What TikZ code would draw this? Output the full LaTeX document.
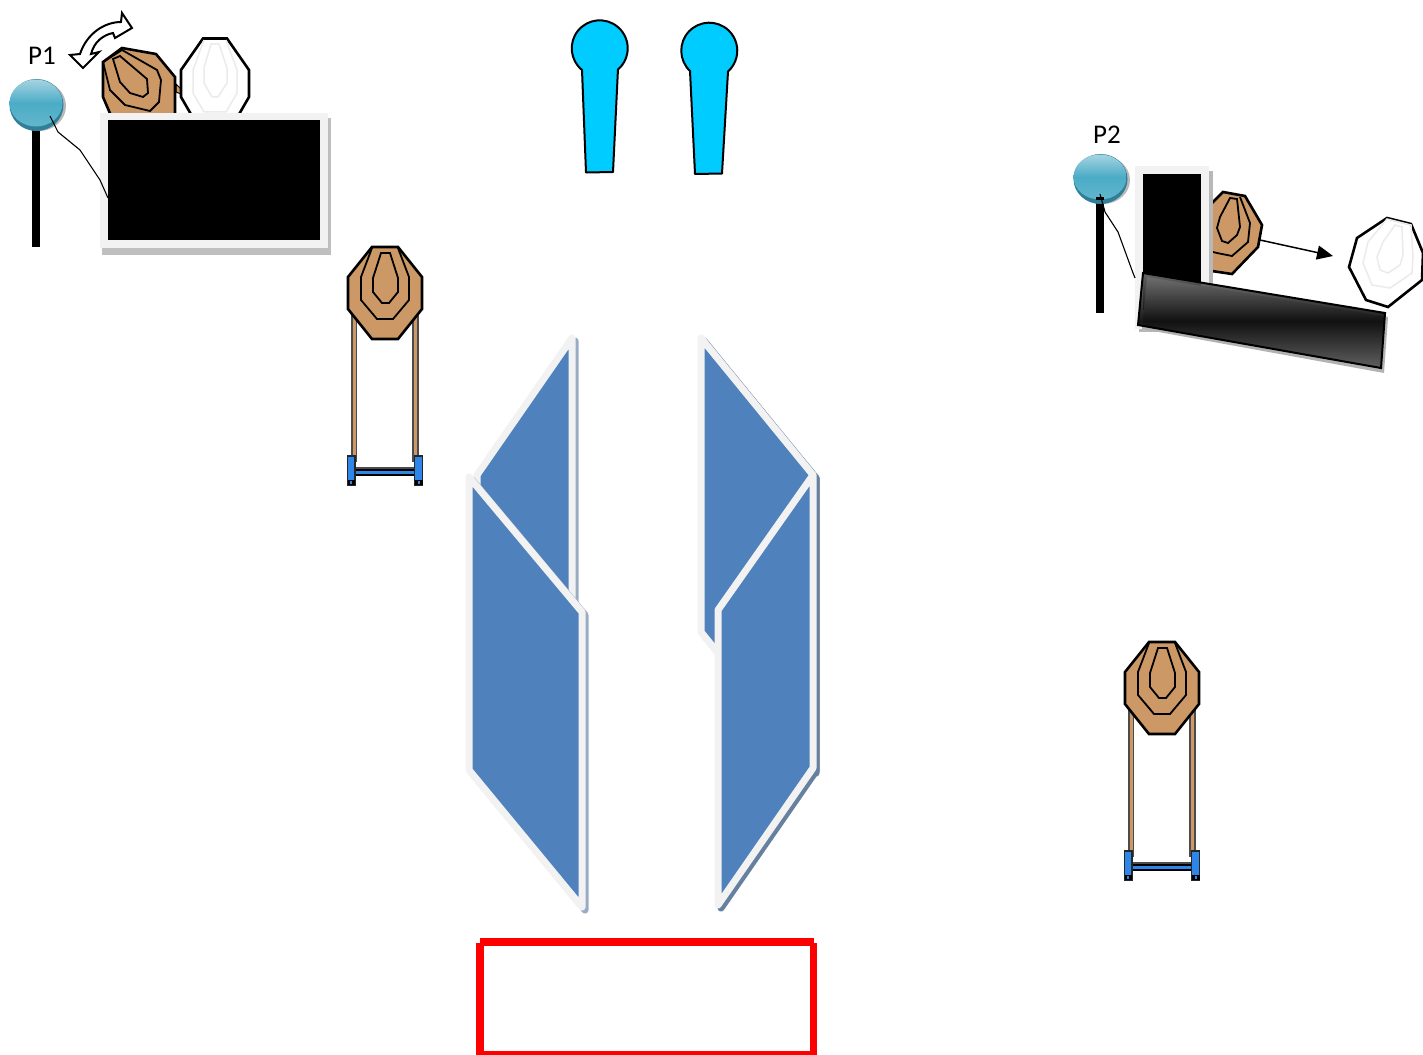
\documentclass[tikz,border=0pt]{standalone}
\usepackage{fontspec}
\setmainfont{Carlito}
\usetikzlibrary{arrows.meta}
\definecolor{tanface}{HTML}{CC9966}
\definecolor{paneblue}{HTML}{4F81BD}
\definecolor{paneedge}{HTML}{F2F2F2}
\definecolor{headblue}{HTML}{00CCFF}
\definecolor{standblue}{HTML}{2E86E8}
\definecolor{ringgray}{HTML}{EBEBEB}
\definecolor{ballTop}{HTML}{A5D3E2}
\definecolor{ballMid}{HTML}{4BACC6}
\definecolor{ballLow}{HTML}{62B6CC}
\definecolor{ballRim}{HTML}{2F7F98}
\definecolor{shadowA}{HTML}{9AACC4}
\definecolor{shadowB}{HTML}{66809F}
\tikzset{
  x=1pt,y=-1pt,
  outerline/.style={draw=black,line width=2.6pt,line join=miter},
  innerline/.style={draw=black,line width=1.8pt,line join=miter},
  ghostline/.style={draw=ringgray,line width=1.5pt},
  pane/.style={fill=paneblue,draw=paneedge,line width=7pt,line join=round},
  paneshadow/.style={fill=#1,draw=#1,line width=7pt,line join=round},
  person/.style={draw=black,line width=2pt,fill=headblue,line join=round},
  wire/.style={draw=black,line width=1.1pt,line join=round},
  pole/.style={fill=black,draw=none},
  ballbody/.style={top color=ballTop,bottom color=ballLow,middle color=ballMid},
  label/.style={font=\fontsize{27}{27}\selectfont,inner sep=0pt},
  pics/standtarget/.style={code={
    \fill[tanface,draw=black!70,line width=1.3pt] (-33,16) rectangle (-28.5,168);
    \fill[tanface,draw=black!70,line width=1.3pt] (28,16) rectangle (33,168);
    \fill[black!70] (-30,174) rectangle (30,178);
    \fill[standblue,draw=black,line width=1.3pt] (-30,177) rectangle (30,182);
    \fill[standblue,draw=black!85,line width=1.3pt] (-37.5,163) rectangle (-30,192);
    \fill[standblue,draw=black!85,line width=1.3pt] (29.5,163) rectangle (37.5,192);
    \fill[black] (-37.5,187) rectangle (-30,192);
    \fill[black] (29.5,187) rectangle (37.5,192);
    \fill[standblue] (-35.5,188) rectangle (-33,190.5);
    \fill[standblue] (32.5,188) rectangle (35,190.5);
    \path[fill=tanface,outerline] (-13,-46)--(13,-46)--(37,-16)--(37,16)--(13,46)--(-13,46)--(-37,16)--(-37,-16)--cycle;
    \path[innerline] (-13,-45)--(-24,-16)--(-24,7)--(-8,26)--(8,26)--(24,7)--(24,-16)--(13,-45);
    \path[innerline] (-4,-40)--(5,-40)--(13,-15)--(13,-1)--(4,10)--(-3,10)--(-12,-1)--(-12,-15)--cycle;
  }}
}
\begin{document}
\begin{tikzpicture}
\useasboundingbox (0,0) rectangle (1423,1054);
\clip (0,0) rectangle (1423,1054);

% Heads at the top
\path[person] (582,70) arc[start angle=129.3,end angle=409.4,radius=28] -- (613,172) -- (586,172.5) -- cycle;
\path[person] (690,71) arc[start angle=133.5,end angle=408,radius=28] -- (722,173.5) -- (695,174) -- cycle;

% Stand targets
\pic (standA) at (385,293) {standtarget};
\pic (standB) at (1162,688) {standtarget};

% Blue panes, back ones first
\path[paneshadow=shadowA] (575,341)--(480,478)--(480,600)--(575,623)--cycle;
\path[paneshadow=shadowB] (704,341)--(816,478)--(816,773)--(704,635)--cycle;
\path[pane] (572,338)--(477,475)--(477,600)--(572,620)--cycle;
\path[pane] (701,338)--(813,475)--(813,770)--(701,632)--cycle;
\path[paneshadow=shadowA] (585,615)--(585,910)--(472,773)--(472,480)--cycle;
\path[paneshadow=shadowB] (816,478)--(816,771)--(721,908)--(721,612)--cycle;
\path[pane] (469,477)--(582,612)--(582,907)--(469,770)--cycle;
\path[pane] (813,475)--(718,610)--(718,905)--(813,768)--cycle;

% Red box
\draw[red,line width=7.5pt] (480,943)--(480,1055)--(813.5,1055)--(813.5,943) (480,942)--(813.5,942);

% P1 station
\path[fill=tanface,draw=black,line width=1pt] (176,84)--(181,89)--(181,94)--(176,92)--cycle;
\path[fill=tanface,outerline] (122,48)--(156,54)--(175,77)--(175,118)--(112,118)--(103,97)--(103,62)--cycle;
\path[innerline] (103,62)--(122,50)--(157,70)--(161,80)--(159,102)--(150,111)--(125,105)--(110,90)--cycle;
\path[innerline] (113,59)--(120,56)--(147,79)--(148,93)--(143,97)--(130,93)--(120,82)--cycle;
\path[fill=white,draw=black,line width=2.6pt] (203,38.5)--(227,38.5)--(249,70)--(249,97)--(238,116)--(192,116)--(181,97)--(181,70)--cycle;
\path[ghostline] (204,40)--(193,70)--(193,93)--(204,112)--(226,112)--(237,93)--(237,70)--(226,40);
\path[ghostline] (211,44)--(219,44)--(227,68)--(227,83)--(218,97)--(212,97)--(204,83)--(204,68)--cycle;
\fill[black!25] (102,118) rectangle (331,255);
\fill[paneedge] (100,113) rectangle (328,248);
\node[fill=black,inner sep=0pt,minimum width=212pt,minimum height=120pt,anchor=north west] (panelA) at (108,120) {};
\fill[pole] (32,130) rectangle (40,247);
\fill[black!35,opacity=.8] (39,106) ellipse [x radius=27,y radius=25];
\fill[ballRim] (36.5,105) ellipse [x radius=27,y radius=26];
\shade[ballbody] (36,103) ellipse [x radius=26.5,y radius=23.5];
\coordinate (wireAstart) at (50,116);
\coordinate (wireAend) at (108,198);
\draw[wire] (wireAstart)--(58,132)--(80,150)--(100,180)--(wireAend);
\node[label] (pa) at (42,56) {P1};
\path[fill=white,draw=black,line width=2pt,line join=miter] (132,28)--(122,13)--(121,22) .. controls (105,22) and (87,33) .. (80,54)--(70,55)--(83,68)--(99,52)--(91,54) .. controls (94,42) and (103,35) .. (113,33)--(115,38)--cycle;

% P2 station
\path[fill=tanface,outerline] (1223,192)--(1245,196)--(1262,225)--(1258,247)--(1232,274)--(1205,270)--(1205,210)--cycle;
\path[innerline] (1205,250)--(1217,253)--(1232,256)--(1248,242)--(1250,223)--(1240,197);
\path[innerline] (1230,198)--(1237,199)--(1240,227)--(1237,235)--(1228,243)--(1222,241)--(1217,228)--(1220,217)--cycle;
\fill[black!28] (1139,171) rectangle (1213,332);
\fill[paneedge] (1135,166) rectangle (1209,329);
\node[fill=black,inner sep=0pt,minimum width=58pt,minimum height=136pt,anchor=north west] (panelB) at (1143,174) {};
\path[fill=white,draw=black,line width=2.6pt] (1387,218)--(1411,224)--(1423,253)--(1422,280)--(1388,307)--(1366,300)--(1349,267)--(1357,238)--cycle;
\path[ghostline] (1387,219)--(1411,225)--(1413,257)--(1412,273)--(1390,288)--(1372,285)--(1363,263)--(1368,242)--cycle;
\path[ghostline] (1395,225)--(1402,227)--(1403,255)--(1400,265)--(1388,273)--(1380,270)--(1377,257)--(1383,242)--cycle;
\coordinate (moveStart) at (1260,240);
\coordinate (moveEnd) at (1333,256);
\draw[line width=1.5pt,-{Triangle[length=16pt,width=14pt]}] (moveStart)--(moveEnd);
% tilted bar
\fill[black!30] (1142,329)--(1147,277)--(1388,317)--(1384,373)--cycle;
\begin{scope}
\clip (1143,273)--(1385,313)--(1381,368)--(1138,325)--cycle;
\node[rotate=-9.4,minimum width=320pt,minimum height=58pt,inner sep=0pt,draw=none,opacity=.9,
      top color=black!50,bottom color=black!60,middle color=black] (barB) at (1261,321) {};
\end{scope}
\path[draw=black,line width=2pt,line join=miter] (1143,273)--(1385,313)--(1381,368)--(1138,325)--cycle;
\fill[pole] (1096,197) rectangle (1104,313);
\fill[black!35,opacity=.8] (1103,180) ellipse [x radius=27,y radius=24];
\fill[ballRim] (1100.5,179) ellipse [x radius=27,y radius=25];
\shade[ballbody] (1100,177) ellipse [x radius=26.5,y radius=22.5];
\fill[pole] (1096,197) rectangle (1104,200);
\coordinate (wireBstart) at (1100,194);
\coordinate (wireBend) at (1135,278);
\draw[wire] (wireBstart)--(1105,212)--(1118,232)--(1133,273)--(wireBend);
\node[label] (pb) at (1107,135) {P2};
\end{tikzpicture}
\end{document}
